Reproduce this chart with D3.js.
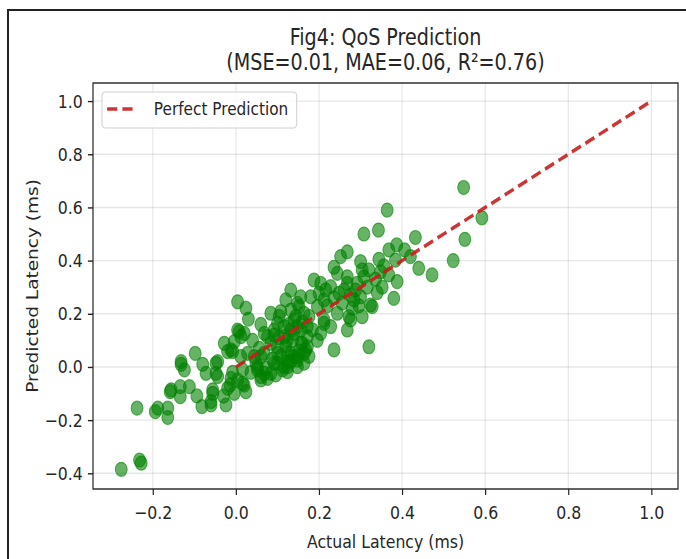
<!DOCTYPE html>
<html>
<head>
<meta charset="utf-8">
<script src="https://cdn.jsdelivr.net/npm/d3@7"></script>
<style>
    body { margin: 0; background: #fff; }
    svg { display: block; }
    text { font-family: "DejaVu Sans", sans-serif; fill: #262626; }
</style>
</head>
<body>
<svg id="chart"></svg>
<script>
// values
const actual = [
    -0.276, -0.232, -0.228, -0.238, -0.194, -0.188, -0.164, -0.164, -0.158, -0.156,
    -0.134, -0.134, -0.132, -0.132, -0.124, -0.112, -0.098, -0.094, -0.080, -0.072,
    -0.082, -0.060, -0.060, -0.056, -0.056, -0.048, -0.044, -0.044, -0.048, -0.024,
    -0.020, -0.014, -0.020, -0.012, -0.004, 0.004, 0.024, -0.004, 0.008, 0.020,
    -0.012, 0.020, 0.024, 0.004, 0.016, 0.048, 0.060, 0.076, 0.084, 0.084,
    0.108, 0.132, 0.120, 0.148, 0.156, 0.076, 0.092, 0.100, 0.116, 0.124,
    0.132, 0.140, 0.148, 0.160, 0.168, 0.124, 0.100, 0.164, 0.172, 0.060,
    0.068, 0.052, 0.188, 0.204, 0.228, 0.204, 0.212, 0.228, 0.244, 0.236,
    0.268, 0.272, 0.320, 0.328, 0.304, 0.284, 0.260, 0.292, 0.308, 0.244,
    0.268, 0.548, 0.592, 0.551, 0.523, 0.472, 0.440, 0.432, 0.364, 0.343,
    0.308, 0.387, 0.406, 0.420, 0.344, 0.368, 0.384, 0.268, 0.252, 0.236,
    0.300, 0.304, 0.320, 0.348, 0.368, 0.388, 0.380, 0.200, 0.248, 0.268,
    0.288, 0.300, 0.324, 0.276, 0.212, 0.152, 0.140, 0.156, 0.172, 0.124,
    0.148, 0.164, 0.124, -0.028, -0.008, 0.004, 0.012, 0.012, 0.028, 0.044,
    0.052, 0.068, 0.060, 0.068, 0.084, 0.100, 0.092, 0.112, 0.124, 0.100,
    0.116, 0.132, 0.148, 0.156, 0.164, 0.140, 0.172, 0.180, 0.196, 0.212,
    0.132, 0.116, 0.148, 0.132, 0.016, 0.040, 0.056, 0.088, 0.104, 0.120,
    0.136, 0.152, 0.108, 0.092, 0.128, 0.144, 0.160, 0.176, 0.184, 0.196,
    0.220, 0.236, 0.256, 0.280, 0.296, 0.316, 0.336, 0.352, 0.276, 0.216,
    0.036, 0.072, 0.096, 0.030, 0.060, -0.030, -0.008, 0.176, 0.104, 0.356,
    0.340
]
const predicted = [
    -0.385, -0.350, -0.362, -0.155, -0.168, -0.155, -0.155, -0.190, -0.093, -0.086,
    -0.074, -0.112, 0.010, 0.020, -0.011, -0.074, 0.051, -0.109, 0.010, -0.024,
    -0.149, -0.130, -0.143, -0.099, -0.086, 0.014, 0.020, -0.036, -0.024, -0.143,
    0.058, -0.068, -0.080, -0.043, -0.099, 0.245, 0.221, 0.095, 0.133, 0.126,
    0.064, -0.068, -0.093, -0.049, -0.011, 0.014, -0.036, -0.043, -0.024, 0.202,
    0.208, 0.289, 0.252, 0.239, 0.264, 0.114, 0.139, 0.076, 0.152, 0.102,
    0.051, 0.126, 0.039, 0.089, 0.064, 0.001, 0.014, 0.202, 0.152, 0.039,
    0.051, -0.011, 0.327, 0.314, 0.302, 0.126, 0.164, 0.152, 0.202, 0.064,
    0.139, 0.189, 0.076, 0.227, 0.189, 0.252, 0.289, 0.314, 0.339, 0.352,
    0.339, 0.675, 0.561, 0.480, 0.400, 0.346, 0.371, 0.487, 0.590, 0.515,
    0.500, 0.459, 0.440, 0.415, 0.405, 0.440, 0.402, 0.433, 0.415, 0.375,
    0.396, 0.365, 0.365, 0.358, 0.346, 0.321, 0.258, 0.277, 0.277, 0.314,
    0.289, 0.264, 0.233, 0.177, 0.177, 0.227, 0.177, 0.139, 0.076, 0.051,
    0.026, 0.014, -0.018, 0.089, 0.058, 0.139, 0.114, 0.039, 0.051, 0.039,
    0.001, -0.024, -0.049, 0.126, 0.089, 0.051, 0.014, -0.011, 0.020, 0.164,
    0.114, 0.139, 0.152, 0.089, 0.051, 0.039, 0.114, 0.264, 0.227, 0.252,
    0.214, 0.001, 0.001, 0.020, -0.062, 0.100, 0.070, 0.030, 0.110, 0.080,
    0.100, 0.060, 0.040, 0.120, 0.160, 0.190, 0.170, 0.190, 0.140, 0.100,
    0.230, 0.260, 0.240, 0.220, 0.230, 0.300, 0.330, 0.300, 0.270, 0.290,
    -0.020, -0.005, -0.030, 0.180, 0.160, -0.110, -0.020, 0.040, 0.190, 0.380,
    0.280
]
const perfectLine = [0, 1]
const xTicks = [-0.2, 0.0, 0.2, 0.4, 0.6, 0.8, 1.0]
const yTicks = [-0.4, -0.2, 0.0, 0.2, 0.4, 0.6, 0.8, 1.0]
const titleLines = ["Fig4: QoS Prediction", "(MSE=0.01, MAE=0.06, R²=0.76)"]
const xLabel = "Actual Latency (ms)"
const yLabel = "Predicted Latency (ms)"
const legendLabel = "Perfect Prediction"

const width = 686
const height = 559
// the reference looks squeezed horizontally, so everything is drawn wide then scaled on x
const squeeze = 0.85
const plot = {left: 93 / squeeze, right: 678 / squeeze, top: 83, bottom: 489}
const midX = (plot.left + plot.right) / 2

const svg = d3.select('#chart')
    .attr('width', width)
    .attr('height', height)

// outer frame of the figure, only top and left edges fall inside the window
svg.append('rect')
    .attr('x', 8).attr('y', 10)
    .attr('width', width + 20).attr('height', height + 20)
    .attr('fill', 'none')
    .attr('stroke', '#222')
    .attr('stroke-width', 2)

const fig = svg.append('g')
    .attr('transform', `scale(${squeeze}, 1)`)

const xScale = d3.scaleLinear()
    .domain([-0.344, 1.064])
    .range([plot.left, plot.right])
const yScale = d3.scaleLinear()
    .domain([-0.459, 1.068])
    .range([plot.bottom, plot.top])

const fmt = d3.format('.1f')

// grid lines
fig.append('g')
    .selectAll('line')
    .data(xTicks)
    .enter().append('line')
    .attr('x1', d => xScale(d)).attr('x2', d => xScale(d))
    .attr('y1', plot.top).attr('y2', plot.bottom)
    .attr('stroke', '#b0b0b0').attr('stroke-opacity', 0.3).attr('stroke-width', 1.4)
fig.append('g')
    .selectAll('line')
    .data(yTicks)
    .enter().append('line')
    .attr('x1', plot.left).attr('x2', plot.right)
    .attr('y1', d => yScale(d)).attr('y2', d => yScale(d))
    .attr('stroke', '#b0b0b0').attr('stroke-opacity', 0.3).attr('stroke-width', 1.4)

// scatter points
fig.append('g')
    .selectAll('circle')
    .data(actual.map((a, i) => [a, predicted[i]]))
    .enter().append('circle')
    .attr('cx', d => xScale(d[0]))
    .attr('cy', d => yScale(d[1]))
    .attr('r', 7)
    .attr('fill', 'green').attr('fill-opacity', 0.6)
    .attr('stroke', 'green').attr('stroke-opacity', 0.6).attr('stroke-width', 1.2)

// perfect prediction line
fig.append('path')
    .datum(perfectLine)
    .attr('d', d3.line().x(d => xScale(d)).y(d => yScale(d)))
    .attr('fill', 'none')
    .attr('stroke', '#c81e1e').attr('stroke-opacity', 0.9)
    .attr('stroke-width', 3.6)
    .attr('stroke-dasharray', '12,6')

// axes
const xAxis = d3.axisBottom(xScale).tickValues(xTicks).tickFormat(fmt).tickSize(6).tickPadding(11)
const yAxis = d3.axisLeft(yScale).tickValues(yTicks).tickFormat(fmt).tickSize(6).tickPadding(6)

const gx = fig.append('g')
    .attr('transform', `translate(0, ${plot.bottom})`)
    .call(xAxis)
const gy = fig.append('g')
    .attr('transform', `translate(${plot.left}, 0)`)
    .call(yAxis)
;[gx, gy].forEach(g => {
    g.select('.domain').remove()
    g.selectAll('line').attr('stroke', '#222').attr('stroke-width', 1.4)
    g.selectAll('text').style('font-size', '18.5px').attr('fill', '#262626')
})

// plot frame
fig.append('rect')
    .attr('x', plot.left).attr('y', plot.top)
    .attr('width', plot.right - plot.left).attr('height', plot.bottom - plot.top)
    .attr('fill', 'none')
    .attr('stroke', '#222').attr('stroke-width', 1.4)

// title
fig.append('g')
    .selectAll('text')
    .data(titleLines)
    .enter().append('text')
    .attr('x', midX)
    .attr('y', (d, i) => 45 + i * 25)
    .attr('text-anchor', 'middle')
    .style('font-size', '22.5px')
    .text(d => d)

// axis labels
fig.append('text')
    .attr('x', midX).attr('y', 548)
    .attr('text-anchor', 'middle')
    .style('font-size', '18.5px')
    .text(xLabel)
fig.append('text')
    .attr('transform', `translate(${38 / squeeze}, ${(plot.top + plot.bottom) / 2}) rotate(-90)`)
    .attr('text-anchor', 'middle')
    .style('font-size', '18.5px')
    .text(yLabel)

// legend
const legend = fig.append('g')
    .attr('transform', `translate(${102 / squeeze}, 92)`)
const legendBox = legend.append('rect')
    .attr('rx', 4)
    .attr('height', 36)
    .attr('fill', '#fff').attr('fill-opacity', 0.8)
    .attr('stroke', '#d0d0d0').attr('stroke-width', 1.2)
legend.append('line')
    .attr('x1', 6).attr('x2', 41)
    .attr('y1', 17).attr('y2', 17)
    .attr('stroke', '#c81e1e').attr('stroke-opacity', 0.9)
    .attr('stroke-width', 3.6)
    .attr('stroke-dasharray', '12,6')
const legendText = legend.append('text')
    .attr('x', 61).attr('y', 23.5)
    .style('font-size', '18px')
    .text(legendLabel)
legendBox.attr('width', 61 + legendText.node().getComputedTextLength() + 10)
</script>
</body>
</html>
